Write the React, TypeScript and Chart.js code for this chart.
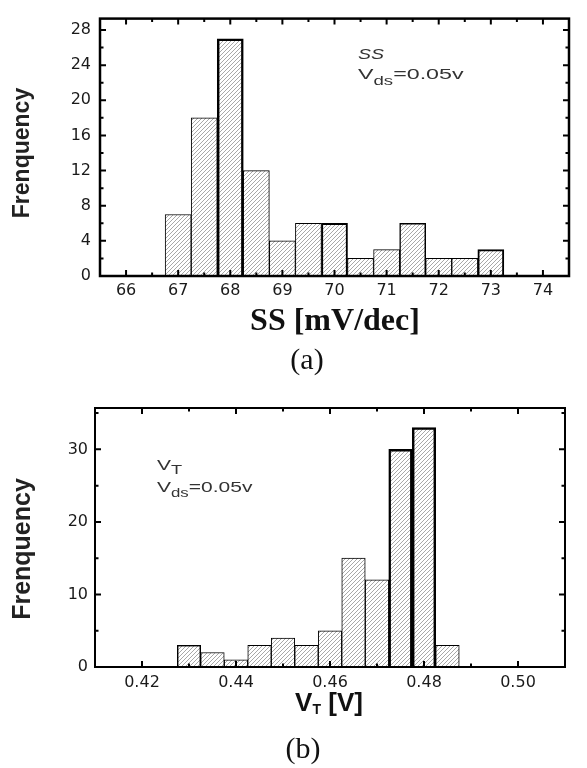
import React, { useEffect, useRef } from 'react';
import { Chart, registerables } from 'chart.js';

Chart.register(...registerables);

// ---------- (a) SS histogram data ----------
const ssBinCenters = [67, 67.5, 68, 68.5, 69, 69.5, 70, 70.5, 71, 71.5, 72, 72.5, 73];
const ssCounts = [7, 18, 27, 12, 4, 6, 6, 2, 3, 6, 2, 2, 3];
const ssXTicks = [66, 67, 68, 69, 70, 71, 72, 73, 74];
const ssXMinor = [66.5, 67.5, 68.5, 69.5, 70.5, 71.5, 72.5, 73.5];
const ssYTicks = [0, 4, 8, 12, 16, 20, 24, 28];
const ssYMinor = [2, 6, 10, 14, 18, 22, 26];

// ---------- (b) VT histogram data ----------
const vtBinCenters = [0.43, 0.435, 0.44, 0.445, 0.45, 0.455, 0.46, 0.465, 0.47, 0.475, 0.48, 0.485];
const vtCounts = [3, 2, 1, 3, 4, 3, 5, 15, 12, 30, 33, 3];
const vtXTicks = [0.42, 0.44, 0.46, 0.48, 0.5];
const vtXMinor = [0.43, 0.45, 0.47, 0.49];
const vtYTicks = [0, 10, 20, 30];
const vtYMinor = [5, 15, 25, 35];

// bar outline emphasis (style)
const ssBorderWidths = [1, 1, 2.5, 1, 1, 1, 2, 1, 1, 1.5, 1, 1, 2];
const vtBorderWidths = [1.5, 1, 1, 1, 1, 1, 1, 1, 1, 2.5, 2.5, 1];

const SANS = '"Liberation Sans", Arial, sans-serif';
const SERIF = '"Liberation Serif", "Times New Roman", serif';
const TICKFONT = '"DejaVu Sans", sans-serif';

function makeHatch(): CanvasPattern | string {
  const c = document.createElement('canvas');
  c.width = 4;
  c.height = 4;
  const g = c.getContext('2d');
  if (!g) return '#ccc';
  g.fillStyle = '#ffffff';
  g.fillRect(0, 0, 4, 4);
  g.strokeStyle = '#a8a8a8';
  g.lineWidth = 1;
  g.beginPath();
  g.moveTo(-1, 5);
  g.lineTo(5, -1);
  g.stroke();
  return g.createPattern(c, 'repeat') || '#ccc';
}

type Part = { text: string; font: string; dy?: number };

function drawParts(ctx: CanvasRenderingContext2D, x: number, y: number, parts: Part[], color: string, sx = 1) {
  ctx.save();
  ctx.translate(x, y);
  ctx.scale(sx, 1);
  ctx.fillStyle = color;
  ctx.textBaseline = 'alphabetic';
  ctx.textAlign = 'left';
  let cx = 0;
  for (const p of parts) {
    ctx.font = p.font;
    ctx.fillText(p.text, cx, p.dy || 0);
    cx += ctx.measureText(p.text).width;
  }
  ctx.restore();
}

function partsWidth(ctx: CanvasRenderingContext2D, parts: Part[]) {
  let w = 0;
  ctx.save();
  for (const p of parts) {
    ctx.font = p.font;
    w += ctx.measureText(p.text).width;
  }
  ctx.restore();
  return w;
}

interface Cfg {
  centers: number[];
  counts: number[];
  borderWidths: number[];
  xMin: number;
  xMax: number;
  yMax: number;
  xTicks: number[];
  xMinor: number[];
  yTicks: number[];
  yMinor: number[];
  xDecimals: number;
  padTop: number;
  padRight: number;
  padBottom: number;
  yAxisWidth: number;
  xAxisHeight: number;
  frameWidth: number;
  tickWidth: number;
  xLabelPad: number;
  yLabelPad: number;
  decorate: (ctx: CanvasRenderingContext2D, chart: any) => void;
}

function buildChart(canvas: HTMLCanvasElement, cfg: Cfg) {
  const hatch = makeHatch();
  const framePlugin = {
    id: 'frameTicks',
    afterDatasetsDraw(chart: any) {
      const ctx: CanvasRenderingContext2D = chart.ctx;
      const { left, right, top, bottom } = chart.chartArea;
      const xs = chart.scales.x;
      const ys = chart.scales.y;
      ctx.save();
      ctx.strokeStyle = '#000';
      ctx.lineWidth = cfg.tickWidth;
      ctx.beginPath();
      const major = 6;
      const minor = 3.5;
      const xt = (vals: number[], len: number) => {
        for (const v of vals) {
          const px = xs.getPixelForValue(v);
          ctx.moveTo(px, bottom);
          ctx.lineTo(px, bottom - len);
          ctx.moveTo(px, top);
          ctx.lineTo(px, top + len);
        }
      };
      const yt = (vals: number[], len: number) => {
        for (const v of vals) {
          const py = ys.getPixelForValue(v);
          ctx.moveTo(left, py);
          ctx.lineTo(left + len, py);
          ctx.moveTo(right, py);
          ctx.lineTo(right - len, py);
        }
      };
      xt(cfg.xTicks, major);
      xt(cfg.xMinor, minor);
      yt(cfg.yTicks, major);
      yt(cfg.yMinor, minor);
      ctx.stroke();
      ctx.lineWidth = cfg.frameWidth;
      ctx.strokeRect(left, top, right - left, bottom - top);
      ctx.restore();
    },
    afterDraw(chart: any) {
      cfg.decorate(chart.ctx, chart);
    },
  };

  return new Chart(canvas, {
    type: 'bar',
    data: {
      datasets: [
        {
          data: cfg.centers.map((x, i) => ({ x, y: cfg.counts[i] })) as any,
          backgroundColor: hatch as any,
          borderColor: '#000',
          borderWidth: cfg.borderWidths,
          barPercentage: 1,
          categoryPercentage: 1,
        },
      ],
    },
    options: {
      responsive: false,
      animation: false,
      devicePixelRatio: 1,
      events: [],
      layout: { padding: { left: 0, top: cfg.padTop, right: cfg.padRight, bottom: cfg.padBottom } },
      plugins: { legend: { display: false }, tooltip: { enabled: false }, title: { display: false } },
      scales: {
        x: {
          type: 'linear',
          min: cfg.xMin,
          max: cfg.xMax,
          afterBuildTicks: (s: any) => {
            s.ticks = cfg.xTicks.map((v) => ({ value: v }));
          },
          afterFit: (s: any) => {
            s.height = cfg.xAxisHeight;
          },
          ticks: {
            autoSkip: false,
            maxRotation: 0,
            padding: cfg.xLabelPad,
            color: '#1a1a1a',
            font: { family: TICKFONT, size: 16 },
            callback: (v: any) => Number(v).toFixed(cfg.xDecimals),
          },
          grid: { display: false, drawTicks: false },
          border: { display: false },
        },
        y: {
          type: 'linear',
          min: 0,
          max: cfg.yMax,
          afterBuildTicks: (s: any) => {
            s.ticks = cfg.yTicks.map((v) => ({ value: v }));
          },
          afterFit: (s: any) => {
            s.width = cfg.yAxisWidth;
          },
          ticks: {
            autoSkip: false,
            padding: cfg.yLabelPad,
            color: '#1a1a1a',
            font: { family: TICKFONT, size: 16 },
            callback: (v: any) => String(v),
          },
          grid: { display: false, drawTicks: false },
          border: { display: false },
        },
      },
    } as any,
    plugins: [framePlugin],
  });
}

const ssCfg: Cfg = {
  centers: ssBinCenters,
  counts: ssCounts,
  borderWidths: ssBorderWidths,
  xMin: 66,
  xMax: 74,
  yMax: 29.3,
  xTicks: ssXTicks,
  xMinor: ssXMinor,
  yTicks: ssYTicks,
  yMinor: ssYMinor,
  xDecimals: 0,
  padTop: 8,
  padRight: 18,
  padBottom: 78,
  yAxisWidth: 100,
  xAxisHeight: 30,
  frameWidth: 2.5,
  tickWidth: 2,
  xLabelPad: 5,
  yLabelPad: 9,
  decorate: (ctx) => {
    ctx.save();
    // y title
    ctx.translate(23, 153);
    ctx.rotate(-Math.PI / 2);
    ctx.font = `bold 23px ${SANS}`;
    ctx.fillStyle = '#222';
    ctx.textAlign = 'center';
    ctx.textBaseline = 'middle';
    ctx.fillText('Frenquency', 0, 0);
    ctx.restore();

    ctx.save();
    ctx.fillStyle = '#111';
    ctx.textAlign = 'center';
    ctx.textBaseline = 'middle';
    ctx.font = `bold 32px ${SERIF}`;
    ctx.fillText('SS [mV/dec]', 335, 322);
    ctx.font = `30px ${SERIF}`;
    ctx.fillText('(a)', 307, 361);
    ctx.restore();

    drawParts(ctx, 358, 59, [{ text: 'SS', font: `italic 15px ${SANS}` }], '#333', 1.3);
    drawParts(
      ctx,
      358,
      79,
      [
        { text: 'V', font: `15px ${SANS}` },
        { text: 'ds', font: `12px ${SANS}`, dy: 6 },
        { text: '=0.05v', font: `15px ${SANS}` },
      ],
      '#333',
      1.55
    );
  },
};

const vtCfg: Cfg = {
  centers: vtBinCenters,
  counts: vtCounts,
  borderWidths: vtBorderWidths,
  xMin: 0.42,
  xMax: 0.5,
  yMax: 35.7,
  xTicks: vtXTicks,
  xMinor: vtXMinor,
  yTicks: vtYTicks,
  yMinor: vtYMinor,
  xDecimals: 2,
  padTop: 24,
  padRight: 22,
  padBottom: 71,
  yAxisWidth: 95,
  xAxisHeight: 30,
  frameWidth: 2,
  tickWidth: 2,
  xLabelPad: 6,
  yLabelPad: 7,
  decorate: (ctx) => {
    ctx.save();
    ctx.translate(23, 165);
    ctx.rotate(-Math.PI / 2);
    ctx.font = `bold 25px ${SANS}`;
    ctx.fillStyle = '#222';
    ctx.textAlign = 'center';
    ctx.textBaseline = 'middle';
    ctx.fillText('Frenquency', 0, 0);
    ctx.restore();

    const xt: Part[] = [
      { text: 'V', font: `bold 26px ${SANS}` },
      { text: 'T', font: `bold 14px ${SANS}`, dy: 3 },
      { text: ' [V]', font: `bold 26px ${SANS}` },
    ];
    const w = partsWidth(ctx, xt);
    drawParts(ctx, 329 - w / 2, 327, xt, '#111');

    ctx.save();
    ctx.fillStyle = '#111';
    ctx.textAlign = 'center';
    ctx.textBaseline = 'middle';
    ctx.font = `30px ${SERIF}`;
    ctx.fillText('(b)', 303, 366);
    ctx.restore();

    drawParts(
      ctx,
      157,
      86,
      [
        { text: 'V', font: `15px ${SANS}` },
        { text: 'T', font: `13px ${SANS}`, dy: 4 },
      ],
      '#333',
      1.4
    );
    drawParts(
      ctx,
      157,
      108,
      [
        { text: 'V', font: `15px ${SANS}` },
        { text: 'ds', font: `12px ${SANS}`, dy: 5 },
        { text: '=0.05v', font: `15px ${SANS}` },
      ],
      '#333',
      1.4
    );
  },
};

function Hist({ cfg, top }: { cfg: Cfg; top: number }) {
  const ref = useRef<HTMLCanvasElement>(null);
  useEffect(() => {
    if (!ref.current) return;
    const chart = buildChart(ref.current, cfg);
    return () => chart.destroy();
  }, [cfg]);
  return (
    <canvas
      ref={ref}
      width={587}
      height={384}
      style={{ position: 'absolute', left: 0, top, width: 587, height: 384, display: 'block' }}
    />
  );
}

export default function App() {
  return (
    <div style={{ position: 'absolute', left: 0, top: 0, width: 587, height: 768, background: '#fff', overflow: 'hidden' }}>
      <Hist cfg={ssCfg} top={0} />
      <Hist cfg={vtCfg} top={384} />
    </div>
  );
}
